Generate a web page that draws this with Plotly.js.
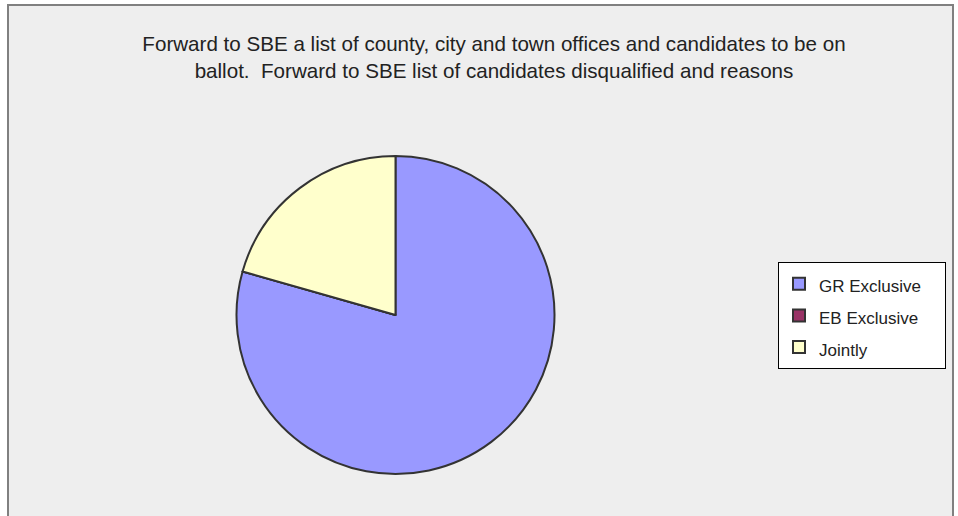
<!DOCTYPE html>
<html>
<head>
<meta charset="utf-8">
<script src="https://cdn.plot.ly/plotly-3.0.1.min.js"></script>
<style>html,body{margin:0;padding:0;background:#fff;}#chart{width:958px;height:516px;}</style>
</head>
<body>
<div id="chart"></div>
<script>
var categories = ["GR Exclusive", "EB Exclusive", "Jointly"];
var values = [27, 0, 7];
var colors = ["#9999FF", "#993366", "#FFFFCC"];
var titleText = "Forward to SBE a list of county, city and town offices and candidates to be on<br>ballot.  Forward to SBE list of candidates disqualified and reasons";

var W = 958, H = 516;
var legendLabels = categories.map(function (c) {
  return '<span style="font-size:17px">' + c + '&nbsp;&nbsp;&nbsp;&nbsp;</span>';
});

var data = [{
  type: "pie",
  labels: legendLabels,
  values: values,
  sort: false,
  direction: "clockwise",
  rotation: 0,
  textinfo: "none",
  hoverinfo: "label+value+percent",
  marker: {colors: colors, line: {color: "#333333", width: 2}},
  domain: {x: [(395.5 - 159) / W, (395.5 + 159) / W], y: [(201 - 159) / H, (201 + 159) / H]},
  showlegend: true
}];

var layout = {
  width: W, height: H,
  margin: {l: 0, r: 0, t: 0, b: 0},
  paper_bgcolor: "#ffffff",
  plot_bgcolor: "rgba(0,0,0,0)",
  font: {family: "Liberation Sans, Arial, sans-serif", color: "#222222"},
  title: {
    text: titleText,
    font: {size: 20.6, color: "#222222", family: "Liberation Sans, Arial, sans-serif"},
    x: 494 / W, xanchor: "center",
    y: 1 - 51 / H, yanchor: "middle",
    xref: "paper", yref: "paper"
  },
  shapes: [{
    type: "rect", xref: "paper", yref: "paper", layer: "below",
    x0: 8 / W, x1: 953 / W, y0: -0.05, y1: 1 - 5 / H,
    fillcolor: "#eeeeee", line: {color: "#808080", width: 2}
  }],
  legend: {
    x: 778 / W, xanchor: "left",
    y: 1 - 262 / H, yanchor: "top",
    bgcolor: "#ffffff", bordercolor: "#000000", borderwidth: 1,
    font: {size: 22, color: "#222222"},
    itemwidth: 30
  }
};

Plotly.newPlot("chart", data, layout, {displayModeBar: false, staticPlot: true});
</script>
</body>
</html>
